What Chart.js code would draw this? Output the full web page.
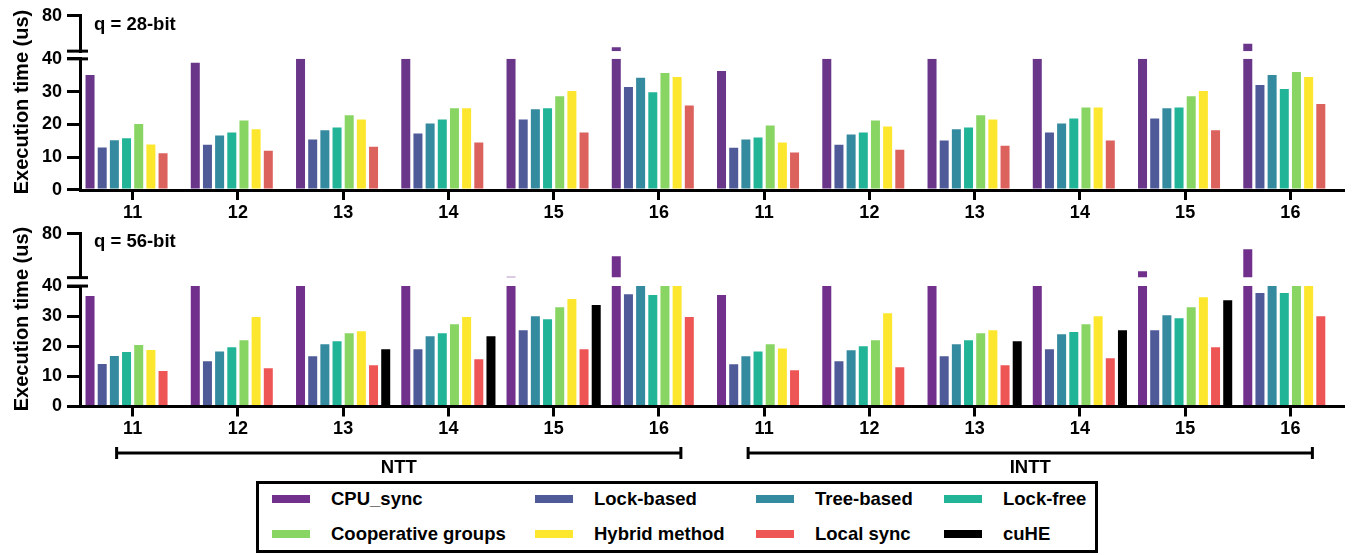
<!DOCTYPE html>
<html>
<head>
<meta charset="utf-8">
<script src="https://cdn.jsdelivr.net/npm/chart.js@4.4.1/dist/chart.umd.min.js"></script>
<style>
  body { margin: 0; background: #fff; width: 1352px; height: 555px; overflow: hidden; position: relative;
         font-family: 'Liberation Sans', Arial, sans-serif; font-weight: bold; color: #000; }
  canvas { position: absolute; left: 0; }
  .ytitle { position: absolute; font-size: 20px; white-space: nowrap; line-height: 22px;
            transform: translate(-50%, -50%) rotate(-90deg); }
  .note { position: absolute; font-size: 18.5px; line-height: 20px; white-space: nowrap; }
  #legend { position: absolute; left: 256px; top: 481px; width: 836px; height: 66px; border: 3px solid #000; }
  .item { position: absolute; height: 24px; display: flex; align-items: center; font-size: 18.5px; white-space: nowrap; }
  .swatch { width: 38px; height: 8px; margin-right: 21px; }
</style>
</head>
<body>
<canvas id="top" width="1352" height="230" style="top:0px"></canvas>
<canvas id="bottom" width="1352" height="262" style="top:218px"></canvas>
<div class="ytitle" style="left:21px; top:102px">Execution time (us)</div>
<div class="ytitle" style="left:21px; top:319px">Execution time (us)</div>
<div class="note" style="left:94px; top:14px">q = 28-bit</div>
<div class="note" style="left:94px; top:231px">q = 56-bit</div>
<div id="legend"></div>
<script>
const groupLabels = ['11', '12', '13', '14', '15', '16', '11', '12', '13', '14', '15', '16'];
const seriesNames = ['CPU_sync', 'Lock-based', 'Tree-based', 'Lock-free', 'Cooperative groups', 'Hybrid method', 'Local sync', 'cuHE'];
const transforms = ['NTT', 'INTT'];

const colors28 = ['#693689', '#4f5a98', '#348a9e', '#22b497', '#89d563', '#fde72e', '#dc625e', '#000000'];
const colors56 = ['#71308c', '#4f5a98', '#348a9e', '#22b497', '#89d563', '#fde72e', '#ee5656', '#000000'];

const breakAt = 40;  // axis broken above this value
const axisTop = 80;

// q = 28-bit
const cpu28    = [35.1, 38.8, 40, 40, 40, 44.5, 36.3, 40, 40, 40, 40, 48.3];
const lock28   = [13.0, 13.8, 15.4, 17.2, 21.5, 31.4, 12.9, 13.8, 15.1, 17.5, 21.8, 32.0];
const tree28   = [15.2, 16.6, 18.2, 20.3, 24.6, 34.2, 15.4, 16.9, 18.5, 20.3, 24.9, 35.1];
const free28   = [15.8, 17.5, 19.1, 21.5, 24.9, 29.8, 16.0, 17.5, 19.1, 21.8, 25.2, 30.8];
const coop28   = [20.1, 21.2, 22.8, 24.9, 28.6, 35.7, 19.7, 21.2, 22.8, 25.2, 28.6, 36.0];
const hybrid28 = [13.9, 18.5, 21.5, 24.9, 30.2, 34.5, 14.5, 19.4, 21.5, 25.2, 30.2, 34.5];
const local28  = [11.2, 12.0, 13.2, 14.5, 17.5, 25.8, 11.4, 12.3, 13.5, 15.1, 18.2, 26.2];
const cuhe28   = [null, null, null, null, null, null, null, null, null, null, null, null];

// q = 56-bit
const cpu56    = [36.7, 40, 40, 40, 40.8, 59.5, 37.0, 40, 40, 40, 45.9, 65.8];
const lock56   = [14.1, 15.0, 16.7, 19.0, 25.3, 37.3, 14.0, 15.0, 16.7, 19.0, 25.3, 37.7];
const tree56   = [16.8, 18.3, 20.7, 23.3, 30.0, 40, 16.7, 18.7, 20.7, 24.0, 30.3, 40];
const free56   = [18.1, 19.7, 21.7, 24.3, 29.0, 37.0, 18.3, 20.0, 22.0, 24.7, 29.3, 37.7];
const coop56   = [20.4, 22.0, 24.3, 27.3, 33.0, 40, 20.7, 22.0, 24.3, 27.3, 33.0, 40];
const hybrid56 = [18.8, 29.7, 25.0, 29.7, 35.7, 40, 19.3, 31.0, 25.3, 30.0, 36.3, 40];
const local56  = [11.8, 12.7, 13.7, 15.7, 19.0, 29.7, 12.0, 13.0, 13.7, 16.0, 19.7, 30.0];
const cuhe56   = [null, null, 19.0, 23.3, 33.7, null, null, null, 21.7, 25.3, 35.3, null];

Chart.defaults.font.family = "'Liberation Sans', Arial, sans-serif";
Chart.defaults.font.weight = 'bold';
Chart.defaults.color = '#000';

// each series is split in two: the part below the break and the part above it
function buildDatasets(seriesValues, colors) {
    const lower = seriesValues.map((vals, i) => ({
        label: seriesNames[i],
        data: vals.map(v => v == null ? null : Math.min(v, breakAt)),
        backgroundColor: colors[i],
        yAxisID: 'yLow',
        stack: 's' + i
    }));
    const upper = seriesValues.map((vals, i) => ({
        label: seriesNames[i],
        data: vals.map(v => v != null && v > breakAt ? [breakAt, v] : null),
        backgroundColor: colors[i],
        yAxisID: 'yTop',
        stack: 's' + i
    }));
    return lower.concat(upper);
}

const tickFont = { size: 18, weight: 'bold' };
const axisLine = { display: true, width: 3, color: '#000' };

function yGrid() {
    return { display: true, drawOnChartArea: false, drawTicks: true, tickLength: 13, lineWidth: 3, color: '#000' };
}

function buildScales(w) {
    return {
        x: {
            type: 'category', labels: groupLabels, offset: true,
            grid: { display: true, offset: false, drawOnChartArea: false, drawTicks: true, tickLength: 10, lineWidth: 3, color: '#000' },
            border: axisLine,
            ticks: { font: tickFont, padding: 2, maxRotation: 0, autoSkip: false },
            afterFit: s => { s.height = w.xHeight; }
        },
        yTop: {
            type: 'linear', position: 'left', stack: 'v', stackWeight: w.top, weight: 3,
            min: breakAt, max: axisTop, stacked: false,
            afterBuildTicks: s => { s.ticks = [{ value: axisTop }]; },
            grid: yGrid(), border: axisLine,
            ticks: { font: tickFont, padding: 5, autoSkip: false },
            afterFit: s => { s.width = 80; }
        },
        yGap: {
            type: 'linear', position: 'left', stack: 'v', stackWeight: w.gap, weight: 2,
            display: false, min: 0, max: 1
        },
        yLow: {
            type: 'linear', position: 'left', stack: 'v', stackWeight: w.low, weight: 1,
            min: 0, max: breakAt, stacked: false,
            grid: yGrid(), border: axisLine,
            ticks: { font: tickFont, padding: 5, stepSize: 10, autoSkip: false },
            afterFit: s => { s.width = 80; }
        }
    };
}

const axisBreak = {
    id: 'axisBreak',
    afterDraw(chart) {
        const { ctx, chartArea } = chart;
        const ys = [chart.scales.yTop.getPixelForValue(breakAt), chart.scales.yLow.getPixelForValue(breakAt)];
        ctx.save();
        ctx.strokeStyle = '#000';
        ctx.lineWidth = 3;
        ys.forEach(y => {
            ctx.beginPath();
            ctx.moveTo(chartArea.left - 13, y);
            ctx.lineTo(chartArea.left + 8, y);
            ctx.stroke();
        });
        ctx.restore();
    }
};

const brackets = {
    id: 'brackets',
    afterDraw(chart) {
        const { ctx } = chart;
        const x = chart.scales.x;
        const y = 235;
        ctx.save();
        ctx.strokeStyle = '#000';
        ctx.fillStyle = '#000';
        ctx.lineWidth = 3;
        ctx.font = "bold 18.5px 'Liberation Sans', Arial, sans-serif";
        ctx.textAlign = 'center';
        ctx.textBaseline = 'middle';
        transforms.forEach((name, k) => {
            const x1 = x.getPixelForValue(k * 6) - 16;
            const x2 = x.getPixelForValue(k * 6 + 5) + 22;
            ctx.beginPath();
            ctx.moveTo(x1, y); ctx.lineTo(x2, y);
            ctx.moveTo(x1, y - 6); ctx.lineTo(x1, y + 6);
            ctx.moveTo(x2, y - 6); ctx.lineTo(x2, y + 6);
            ctx.stroke();
            ctx.fillText(name, (x1 + x2) / 2, y + 15);
        });
        ctx.restore();
    }
};

function makeChart(id, seriesValues, colors, w, padding, plugins) {
    return new Chart(document.getElementById(id), {
        type: 'bar',
        data: { labels: groupLabels, datasets: buildDatasets(seriesValues, colors) },
        options: {
            responsive: false,
            animation: false,
            devicePixelRatio: 1,
            layout: { padding: padding },
            categoryPercentage: 0.925,
            barPercentage: 0.74,
            scales: buildScales(w),
            plugins: { legend: { display: false }, tooltip: { enabled: false } }
        },
        plugins: plugins
    });
}

makeChart('top',
    [cpu28, lock28, tree28, free28, coop28, hybrid28, local28, cuhe28], colors28,
    { top: 35.7, gap: 7.8, low: 132.5, xHeight: 40 },
    { top: 14, right: 9, left: 0, bottom: 0 },
    [axisBreak]);

makeChart('bottom',
    [cpu56, lock56, tree56, free56, coop56, hybrid56, local56, cuhe56], colors56,
    { top: 44.2, gap: 8.5, low: 121.5, xHeight: 43.5 },
    { top: 14.3, right: 9, left: 0, bottom: 30 },
    [axisBreak, brackets]);

// legend, 4 columns x 2 rows
const legendCols = [13, 276, 497, 685];
const legendRows = [3, 38];
const legend = document.getElementById('legend');
seriesNames.forEach((name, i) => {
    const item = document.createElement('div');
    item.className = 'item';
    item.style.left = legendCols[i % 4] + 'px';
    item.style.top = legendRows[Math.floor(i / 4)] + 'px';
    item.innerHTML = `<span class="swatch" style="background:${colors56[i]}"></span>${name}`;
    legend.appendChild(item);
});
</script>
</body>
</html>
